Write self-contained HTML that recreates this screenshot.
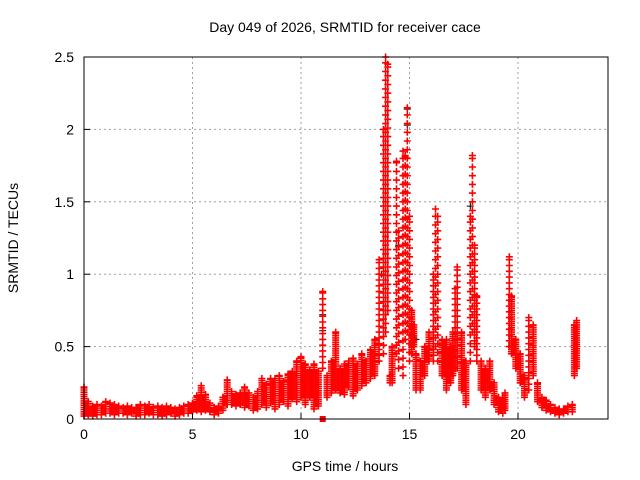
<!DOCTYPE html>
<html><head><meta charset="utf-8"><style>
body{margin:0;background:#fff;}
svg{display:block;font-family:"Liberation Sans",sans-serif;}
</style></head><body>
<svg id="chart" width="640" height="480">
<rect width="640" height="480" fill="#fff"/>
<text x="345" y="32" text-anchor="middle" font-size="14">Day 049 of 2026, SRMTID for receiver cace</text>
<text x="345" y="471" text-anchor="middle" font-size="14">GPS time / hours</text>
<text transform="translate(18,238) rotate(-90)" text-anchor="middle" font-size="14">SRMTID / TECUs</text>
<g id="grid"></g><g id="marks"></g><g id="axes"></g>
</svg>
<script>
const times=[0.0,0.2,0.4,0.6,0.8,1.0,1.2,1.4,1.6,1.8,2.0,2.2,2.4,2.6,2.8,3.0,3.2,3.4,3.6,3.8,4.0,4.2,4.4,4.6,4.8,5.0,5.2,5.4,5.6,5.8,6.0,6.2,6.4,6.6,6.8,7.0,7.2,7.4,7.6,7.8,8.0,8.2,8.4,8.6,8.8,9.0,9.2,9.4,9.6,9.8,10.0,10.2,10.4,10.6,10.8,11.0,11.2,11.4,11.6,11.8,12.0,12.2,12.4,12.6,12.8,13.0,13.2,13.4,13.6,13.8,13.9,14.0,14.1,14.2,14.4,14.5,14.7,14.8,14.9,15.0,15.1,15.2,15.3,15.5,15.7,15.9,16.1,16.2,16.3,16.5,16.7,16.9,17.0,17.1,17.2,17.4,17.6,17.8,17.9,18.0,18.1,18.3,18.5,18.7,18.9,19.1,19.3,19.4,19.6,19.7,19.9,20.1,20.3,20.5,20.7,20.9,21.1,21.3,21.5,21.7,21.9,22.1,22.3,22.5,22.6,22.7];
const lowVals=[0.02,0.03,0.02,0.03,0.03,0.04,0.04,0.03,0.04,0.04,0.03,0.04,0.02,0.03,0.03,0.04,0.03,0.03,0.02,0.03,0.04,0.02,0.03,0.04,0.04,0.05,0.06,0.05,0.06,0.05,0.03,0.04,0.06,0.10,0.10,0.09,0.10,0.08,0.09,0.06,0.07,0.10,0.08,0.11,0.07,0.10,0.12,0.09,0.14,0.12,0.15,0.10,0.15,0.07,0.09,0.35,0.15,0.18,0.20,0.18,0.17,0.22,0.16,0.20,0.23,0.25,0.28,0.30,0.40,0.45,0.60,0.75,0.25,0.25,0.45,0.35,0.30,0.55,0.60,0.40,0.45,0.50,0.20,0.20,0.30,0.40,0.40,0.50,0.40,0.30,0.20,0.25,0.30,0.35,0.35,0.20,0.10,0.40,0.60,0.50,0.40,0.20,0.15,0.20,0.10,0.05,0.04,0.06,0.50,0.45,0.35,0.25,0.15,0.20,0.30,0.12,0.08,0.06,0.05,0.04,0.03,0.04,0.05,0.05,0.30,0.35];
const highVals=[0.22,0.12,0.09,0.10,0.09,0.12,0.11,0.10,0.09,0.08,0.09,0.08,0.08,0.10,0.09,0.10,0.08,0.09,0.08,0.09,0.08,0.07,0.08,0.09,0.10,0.11,0.16,0.23,0.17,0.11,0.08,0.09,0.15,0.27,0.19,0.17,0.18,0.22,0.18,0.15,0.19,0.28,0.24,0.28,0.28,0.30,0.26,0.31,0.33,0.40,0.43,0.38,0.34,0.38,0.33,0.88,0.30,0.40,0.60,0.35,0.38,0.40,0.42,0.38,0.45,0.40,0.48,0.55,1.10,2.00,2.50,2.45,0.30,0.50,1.78,1.30,1.85,1.82,2.15,1.40,0.75,0.65,0.45,0.40,0.50,0.60,1.00,1.45,1.40,0.55,0.55,0.50,0.60,0.90,1.05,0.60,0.40,1.40,1.82,1.20,0.85,0.40,0.35,0.40,0.25,0.15,0.15,0.18,1.12,0.85,0.55,0.45,0.30,0.70,0.65,0.25,0.15,0.13,0.10,0.08,0.07,0.07,0.09,0.10,0.65,0.68];
const blackTimes=[11.0,11.0,14.9,14.9,13.7,14.5,15.3,17.8];
const blackVals=[0.72,0.61,2.14,2.03,1.0,1.2,0.55,1.47];
const xTicks=[0,5,10,15,20];
const yTicks=[0,0.5,1,1.5,2,2.5];
const yTickLabels=["0","0.5","1","1.5","2","2.5"];
const L=84,R=608,T=57,B=419;
const xs=v=>L+v*21.7;
const ys=v=>B-(v/2.5)*(B-T);
const NS="http://www.w3.org/2000/svg";
function mk(tag,attrs,parent){const e=document.createElementNS(NS,tag);for(const k in attrs)e.setAttribute(k,attrs[k]);parent.appendChild(e);return e;}
const grid=document.getElementById('grid'),marks=document.getElementById('marks'),axes=document.getElementById('axes');
xTicks.forEach(t=>{
 if(t>0){const g=mk('line',{x1:xs(t),x2:xs(t),y1:T,y2:B,stroke:'#a0a0a0','stroke-dasharray':'2,3'},grid);
 
 }
 const tl=mk('line',{x1:xs(t),x2:xs(t),y1:B,y2:B-6,stroke:'#000'},axes);
 
 
 const tx=mk('text',{x:xs(t),y:B+20,'text-anchor':'middle','font-size':'14'},axes);tx.textContent=t;
 
 
});
yTicks.forEach((v,i)=>{
 if(v>0&&v<2.5){const g=mk('line',{x1:L,x2:R,y1:ys(v),y2:ys(v),stroke:'#a0a0a0','stroke-dasharray':'2,3'},grid);
 
 }
 const tl=mk('line',{x1:L,x2:L+6,y1:ys(v),y2:ys(v),stroke:'#000'},axes);
 
 
 const tx=mk('text',{x:L-10,y:ys(v)+5,'text-anchor':'end','font-size':'14'},axes);tx.textContent=yTickLabels[i];
 
 
});
const fr=mk('rect',{x:L,y:T,width:R-L,height:B-T,fill:'none',stroke:'#000','stroke-width':1},axes);


let d='';
function plus(x,y){d+=`M${(x-3.5).toFixed(1)} ${y.toFixed(1)}h7M${x.toFixed(1)} ${(y-3.5).toFixed(1)}v7`;}
let db='';
blackTimes.forEach((t,i)=>{const x=xs(t),y=ys(blackVals[i]);db+=`M${(x-3.5).toFixed(1)} ${y.toFixed(1)}h7M${x.toFixed(1)} ${(y-3.5).toFixed(1)}v7`;});
const bp=mk('path',{d:db,stroke:'#000',fill:'none','stroke-width':1},marks);


times.forEach((t,i)=>{
 const lo=lowVals[i],hi=highVals[i];
 const span=hi-lo;
 const step=span>0.8?0.06:(span>0.4?0.04:0.015);
 for(let v=lo;v<hi;v+=step)plus(xs(t),ys(v));
 plus(xs(t),ys(hi));
});
const rp=mk('path',{d:d,stroke:'#ff0000',fill:'none','stroke-width':1.6},marks);


const sq=mk('rect',{x:xs(11.0)-3,y:B-3,width:6,height:6,fill:'#ff0000'},marks);


</script>
</body></html>
